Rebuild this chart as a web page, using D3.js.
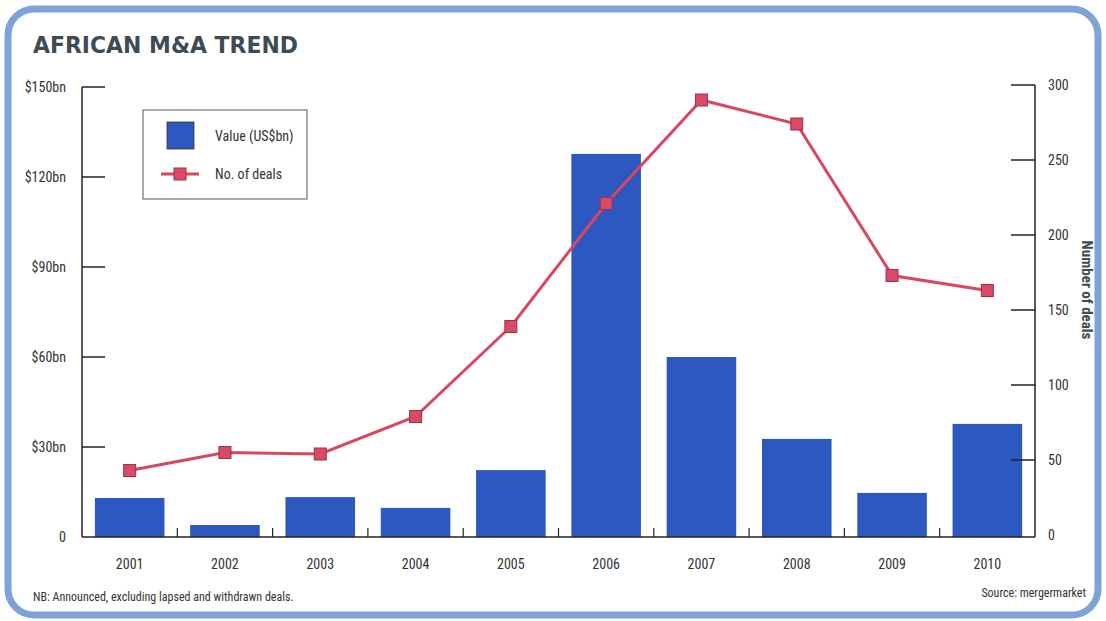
<!DOCTYPE html>
<html>
<head>
<meta charset="utf-8">
<script src="https://cdn.jsdelivr.net/npm/d3@7"></script>
<style>
  body { margin: 0; background: #fff; }
  svg text { font-family: "Liberation Sans Narrow", "Roboto Condensed", "Open Sans", sans-serif; fill: #333; }
</style>
</head>
<body>
<svg id="chart" width="1106" height="621"></svg>
<script>
// African M&A trend data
const years = ['2001', '2002', '2003', '2004', '2005', '2006', '2007', '2008', '2009', '2010'];
const valueBn = [13, 4, 13.3, 9.7, 22.3, 127.7, 60, 32.7, 14.7, 37.7];
const deals = [43, 55, 54, 79, 139, 221, 290, 274, 173, 163];
const valueTicks = [0, 30, 60, 90, 120, 150];
const valueTickLabels = ['0', '$30bn', '$60bn', '$90bn', '$120bn', '$150bn'];
const dealTicks = [0, 50, 100, 150, 200, 250, 300];

const svg = d3.select('#chart');
const barColor = '#2d58bf';
const lineColor = '#d9475f';

// frame
svg.append('rect')
    .attr('x', 8).attr('y', 9)
    .attr('width', 1090).attr('height', 606)
    .attr('rx', 26)
    .style('fill', '#fff')
    .style('stroke', '#7fa3d6')
    .style('stroke-width', 7);

svg.append('text')
    .attr('x', 33).attr('y', 53)
    .style('font-family', '"DejaVu Sans", sans-serif')
    .style('font-weight', 'bold')
    .style('font-size', '23px')
    .style('fill', '#3d4b55')
    .attr('textLength', 265)
    .attr('lengthAdjust', 'spacingAndGlyphs')
    .text('AFRICAN M&A TREND');

const plotLeft = 82, plotRight = 1035, plotTop = 87, plotBottom = 537;

const x = d3.scaleBand().domain(years).range([plotLeft, plotRight]).paddingInner(0.27).paddingOuter(0.135);
const xBand = d3.scaleBand().domain(years).range([plotLeft, plotRight]);
const yVal = d3.scaleLinear().domain([0, 150]).range([plotBottom, plotTop]);
const yDeals = d3.scaleLinear().domain([0, 300]).range([plotBottom - 2, plotTop - 2]);

// bars
svg.append('g').selectAll('rect')
    .data(years)
    .join('rect')
    .attr('x', d => x(d))
    .attr('width', x.bandwidth())
    .attr('y', (d, i) => yVal(valueBn[i]))
    .attr('height', (d, i) => yVal(0) - yVal(valueBn[i]))
    .style('fill', barColor);

// left axis
const leftAxis = svg.append('g');
leftAxis.append('line')
    .attr('x1', plotLeft).attr('x2', plotLeft)
    .attr('y1', plotTop).attr('y2', plotBottom)
    .style('stroke', '#222').style('stroke-width', 1.5);
valueTicks.forEach((t, i) => {
    if (t > 0) {
        leftAxis.append('line')
            .attr('x1', plotLeft).attr('x2', plotLeft + 23)
            .attr('y1', yVal(t)).attr('y2', yVal(t))
            .style('stroke', '#222').style('stroke-width', 1.5);
    }
    leftAxis.append('text')
        .attr('x', 66).attr('y', yVal(t) + 5)
        .attr('text-anchor', 'end')
        .style('font-size', '14px')
        .text(valueTickLabels[i]);
});

// baseline and category separators
svg.append('line')
    .attr('x1', plotLeft).attr('x2', plotRight)
    .attr('y1', plotBottom).attr('y2', plotBottom)
    .style('stroke', '#222').style('stroke-width', 1.5);
svg.append('g').selectAll('line')
    .data(years.slice(1))
    .join('line')
    .attr('x1', d => xBand(d)).attr('x2', d => xBand(d))
    .attr('y1', plotBottom).attr('y2', plotBottom - 9)
    .style('stroke', '#222').style('stroke-width', 1.2);

svg.append('g').selectAll('text')
    .data(years)
    .join('text')
    .attr('x', d => xBand(d) + xBand.bandwidth() / 2)
    .attr('y', 569)
    .attr('text-anchor', 'middle')
    .style('font-size', '14px')
    .text(d => d);

// right axis
const rightAxis = svg.append('g');
rightAxis.append('line')
    .attr('x1', plotRight).attr('x2', plotRight)
    .attr('y1', yDeals(300)).attr('y2', plotBottom)
    .style('stroke', '#222').style('stroke-width', 1.5);
dealTicks.forEach(t => {
    if (t > 0) {
        rightAxis.append('line')
            .attr('x1', plotRight - 24).attr('x2', plotRight)
            .attr('y1', yDeals(t)).attr('y2', yDeals(t))
            .style('stroke', '#222').style('stroke-width', 1.5);
    }
    rightAxis.append('text')
        .attr('x', 1048).attr('y', yDeals(t) + 5)
        .style('font-size', '14px')
        .text(t);
});
svg.append('text')
    .attr('transform', 'translate(1082, 290) rotate(90)')
    .attr('text-anchor', 'middle')
    .style('font-size', '15px')
    .style('font-weight', 'bold')
    .style('fill', '#3d4b55')
    .text('Number of deals');

// deals line
const line = d3.line()
    .x((d, i) => xBand(years[i]) + xBand.bandwidth() / 2)
    .y(d => yDeals(d));
svg.append('path')
    .datum(deals)
    .attr('d', line)
    .style('fill', 'none')
    .style('stroke', lineColor)
    .style('stroke-width', 3);
svg.append('g').selectAll('rect')
    .data(deals)
    .join('rect')
    .attr('x', (d, i) => xBand(years[i]) + xBand.bandwidth() / 2 - 6)
    .attr('y', d => yDeals(d) - 6)
    .attr('width', 12).attr('height', 12)
    .style('fill', '#d84a68')
    .style('stroke', '#9c3347')
    .style('stroke-width', 1);

// legend
const legend = svg.append('g');
legend.append('rect')
    .attr('x', 143).attr('y', 110)
    .attr('width', 164).attr('height', 89)
    .style('fill', '#fff')
    .style('stroke', '#555')
    .style('stroke-width', 1);
legend.append('rect')
    .attr('x', 167).attr('y', 122)
    .attr('width', 27).attr('height', 27)
    .style('fill', barColor)
    .style('stroke', '#333').style('stroke-width', 0.8);
legend.append('text')
    .attr('x', 215).attr('y', 141)
    .style('font-size', '14px')
    .text('Value (US$bn)');
legend.append('line')
    .attr('x1', 161).attr('x2', 199)
    .attr('y1', 174).attr('y2', 174)
    .style('stroke', lineColor).style('stroke-width', 3);
legend.append('rect')
    .attr('x', 174).attr('y', 168)
    .attr('width', 12).attr('height', 12)
    .style('fill', '#d84a68')
    .style('stroke', '#9c3347').style('stroke-width', 1);
legend.append('text')
    .attr('x', 215).attr('y', 179)
    .style('font-size', '14px')
    .text('No. of deals');

// notes
svg.append('text')
    .attr('x', 33).attr('y', 601)
    .style('font-size', '12px')
    .text('NB: Announced, excluding lapsed and withdrawn deals.');
svg.append('text')
    .attr('x', 1086).attr('y', 597)
    .attr('text-anchor', 'end')
    .style('font-size', '12px')
    .text('Source: mergermarket');
</script>
</body>
</html>
